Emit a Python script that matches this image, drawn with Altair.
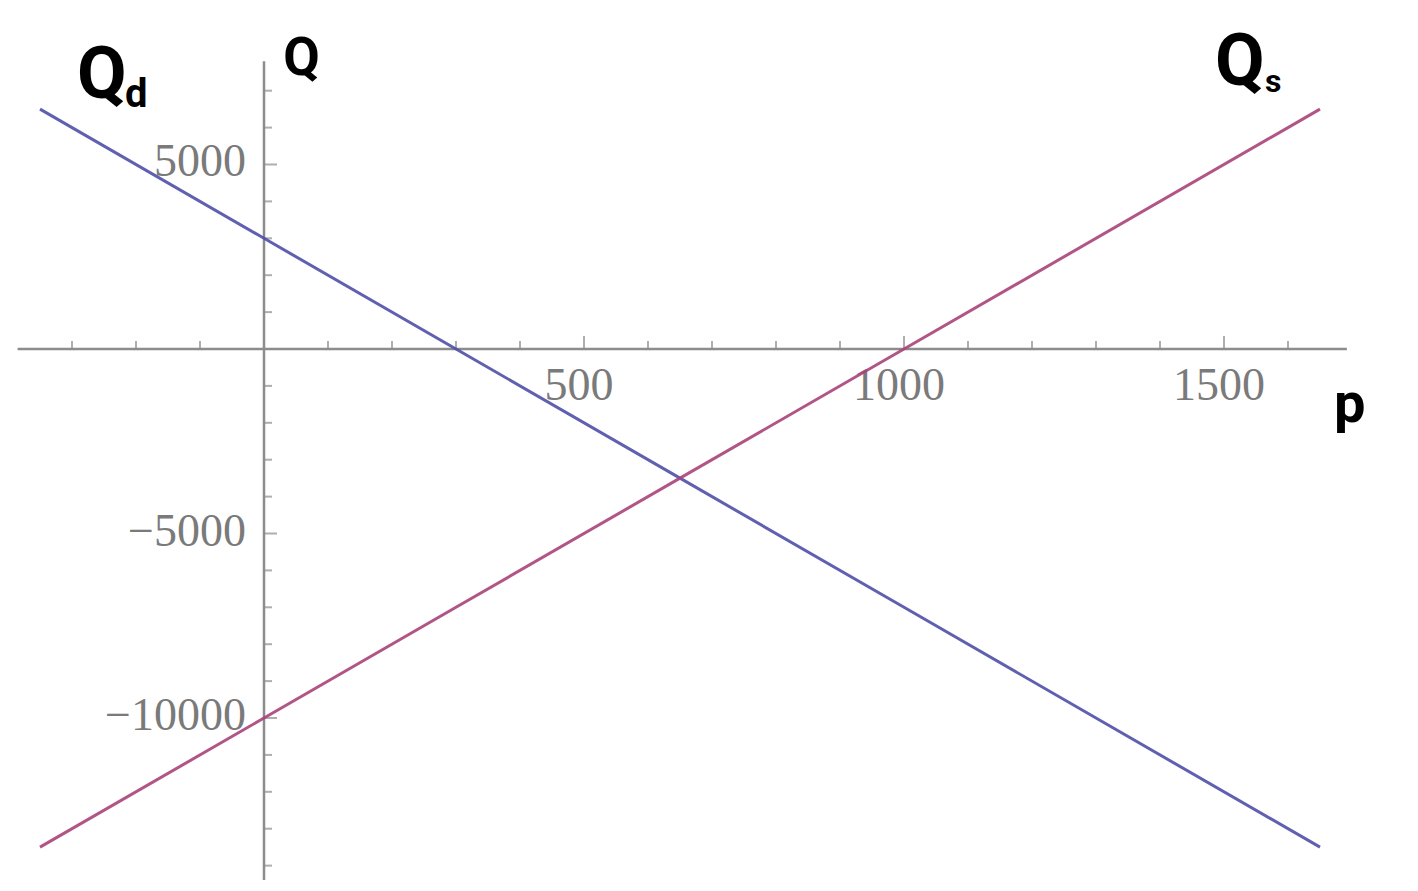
import altair as alt
import pandas as pd

# ---- data ----
P = [-350, 0, 300, 650, 1000, 1650]
QD = [6500, 3000, 0, -3500, -7000, -13500]
QS = [-13500, -10000, -7000, -3500, 0, 6500]

X_MINOR = [-300, -200, -100, 100, 200, 300, 400, 600, 700, 800, 900,
           1100, 1200, 1300, 1400, 1600]
X_MAJOR = [500, 1000, 1500]
X_LABELS = ["500", "1000", "1500"]

Y_MINOR = [7000, 6000, 4000, 3000, 2000, 1000, -1000, -2000, -3000, -4000,
           -6000, -7000, -8000, -9000, -11000, -12000, -13000, -14000]
Y_MAJOR = [5000, -5000, -10000]
Y_LABELS = ["5000", "\u22125000", "\u221210000"]

X_AXIS_RANGE = [-385, 1692]
Y_AXIS_RANGE = [7800, -14600]

ANN_TEXT = ["Q", "Q", "d", "Q", "s", "p"]
ANN_P = [30, -292, -217, 1486, 1564, 1672]
ANN_Q = [7425, 6800, 6560, 7150, 6965, -1980]
ANN_SIZE = [53, 72, 40, 72, 32, 56]

# ---- scales ----
xs = alt.Scale(domain=[-400, 1787.5], nice=False, zero=False)
ys = alt.Scale(domain=[-14390, 9241], nice=False, zero=False)

def X(field):
    return alt.X(field, type="quantitative", scale=xs, axis=None)

def Y(field):
    return alt.Y(field, type="quantitative", scale=ys, axis=None)

X0 = alt.XDatum(0, type="quantitative", scale=xs, axis=None)
Y0 = alt.YDatum(0, type="quantitative", scale=ys, axis=None)

AX_COL = "#8c8c8c"
LBL_COL = "#7a7a7a"

lines_df = pd.DataFrame({
    "p": P * 2,
    "Q": QD + QS,
    "s": ["Qd"] * len(P) + ["Qs"] * len(P),
})

lines = alt.Chart(lines_df).mark_line(strokeWidth=3, opacity=0.9).encode(
    x=X("p"), y=Y("Q"),
    color=alt.Color("s:N", scale=alt.Scale(domain=["Qd", "Qs"],
                                           range=["#4f4fa8", "#a8437a"]),
                    legend=None),
    detail="s:N",
)

xaxis = alt.Chart(pd.DataFrame({"p": [X_AXIS_RANGE[0]], "p2": [X_AXIS_RANGE[1]]})).mark_rule(
    color=AX_COL, strokeWidth=2.5).encode(x=X("p"), x2="p2", y=Y0)
yaxis = alt.Chart(pd.DataFrame({"Q": [Y_AXIS_RANGE[0]], "Q2": [Y_AXIS_RANGE[1]]})).mark_rule(
    color=AX_COL, strokeWidth=2.5).encode(y=Y("Q"), y2="Q2", x=X0)

xminor = alt.Chart(pd.DataFrame({"p": X_MINOR})).mark_tick(
    orient="vertical", size=8, thickness=2, color=AX_COL, yOffset=-4).encode(x=X("p"), y=Y0)
xmajor = alt.Chart(pd.DataFrame({"p": X_MAJOR})).mark_tick(
    orient="vertical", size=13, thickness=2, color=AX_COL, yOffset=-6.5).encode(x=X("p"), y=Y0)
yminor = alt.Chart(pd.DataFrame({"Q": Y_MINOR})).mark_tick(
    orient="horizontal", size=8, thickness=2, color=AX_COL, xOffset=4).encode(y=Y("Q"), x=X0)
ymajor = alt.Chart(pd.DataFrame({"Q": Y_MAJOR})).mark_tick(
    orient="horizontal", size=13, thickness=2, color=AX_COL, xOffset=6.5).encode(y=Y("Q"), x=X0)

xlabels = alt.Chart(pd.DataFrame({"p": X_MAJOR, "t": X_LABELS})).mark_text(
    font="Liberation Serif", fontSize=46, color=LBL_COL, align="center",
    baseline="alphabetic", dy=51, dx=-5).encode(x=X("p"), y=Y0, text="t:N")
ylabels = alt.Chart(pd.DataFrame({"Q": Y_MAJOR, "t": Y_LABELS})).mark_text(
    font="Liberation Serif", fontSize=46, color=LBL_COL, align="right",
    baseline="alphabetic", dy=12, dx=-18).encode(y=Y("Q"), x=X0, text="t:N")

ann_df = pd.DataFrame({"t": ANN_TEXT, "p": ANN_P, "Q": ANN_Q, "size": ANN_SIZE})
ann = alt.Chart(ann_df).mark_text(
    font="Roboto", fontWeight="bold", color="black", align="left",
    baseline="alphabetic").encode(
    x=X("p"), y=Y("Q"), text="t:N",
    size=alt.Size("size:Q", scale=None, legend=None),
)

chart = alt.layer(
    xaxis, yaxis, xminor, xmajor, yminor, ymajor, xlabels, ylabels, lines, ann
).properties(
    width=1400, height=872, padding=0, autosize=alt.AutoSizeParams(type="none"),
    background="white",
).configure_view(stroke=None)

chart.save("out.html", embed_options={"renderer": "svg", "actions": False})
